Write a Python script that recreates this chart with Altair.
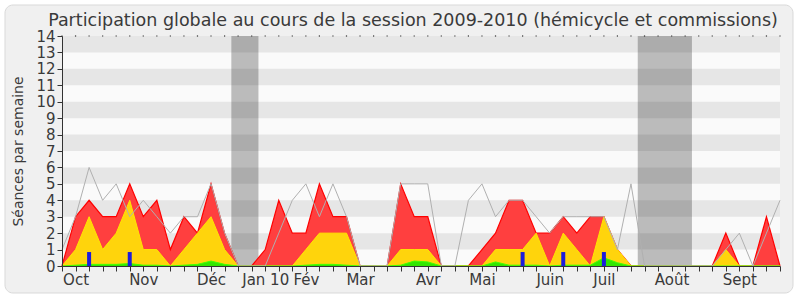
import altair as alt
import pandas as pd

# ---- data ----
weeks = list(range(54))
presence_total = [0, 3, 4, 3, 3, 5, 3, 4, 1, 3, 2, 5, 2, 0,
                  0, 1, 4, 2, 2, 5, 3, 3, 0, 0, 0, 5, 3, 3,
                  0, 0, 0, 1, 2, 4, 4, 2, 2, 3, 2, 3, 3, 1,
                  0, 0, 0, 0, 0, 0, 0, 2, 0, 0, 3, 0]
presence_hemicycle = [0, 1, 3, 1, 2, 4, 1, 1, 0, 1, 2, 3, 1, 0,
                      0, 0, 0, 0, 1, 2, 2, 2, 0, 0, 0, 1, 1, 1,
                      0, 0, 0, 0, 1, 1, 1, 2, 0, 2, 1, 0, 3, 1,
                      0, 0, 0, 0, 0, 0, 0, 1, 0, 0, 0, 0]
interventions = [0, 0.05, 0.1, 0.1, 0.1, 0.15, 0.05, 0.05, 0, 0.05, 0.1, 0.3, 0.1, 0,
                 0, 0, 0, 0, 0.05, 0.1, 0.1, 0.05, 0, 0, 0, 0.05, 0.3, 0.25,
                 0, 0, 0, 0, 0.25, 0.05, 0.05, 0.05, 0, 0.05, 0.05, 0.05, 0.5, 0.2,
                 0, 0, 0, 0, 0, 0, 0, 0, 0, 0, 0, 0]
mediane = [1, 3, 6, 4, 5, 3, 4, 3, 2, 3, 3, 5, 2, 0,
           0, 0, 2, 4, 5, 3, 5, 3, 0, 0, 0, 5, 5, 5,
           0, 0, 4, 5, 3, 4, 4, 3, 2, 3, 3, 3, 3, 1,
           5, 0, 0, 0, 0, 0, 0, 1, 2, 0, 2, 4]
question_weeks = [2, 5, 34, 37, 40]
question_values = [0.85, 0.85, 0.85, 0.85, 0.85]
vacation_start = [12.5, 42.5]
vacation_end = [14.5, 46.5]
stripe_low = [1, 3, 5, 7, 9, 11, 13]
month_weeks = [1, 6, 11, 15, 18, 22, 27, 31, 36, 40, 45, 50]
month_labels = ["Oct", "Nov", "Déc", "Jan 10", "Fév", "Mar", "Avr", "Mai",
                "Juin", "Juil", "Août", "Sept"]
y_ticks = list(range(15))

FONT = "DejaVu Sans"
TXT = "#3a3a3a"

df = pd.DataFrame({"week": weeks, "total": presence_total,
                   "hemi": presence_hemicycle, "inter": interventions,
                   "med": mediane})
qdf = pd.DataFrame({"week": question_weeks, "q": question_values})
vdf = pd.DataFrame({"start": vacation_start, "end": vacation_end,
                    "lo": [0] * len(vacation_start), "hi": [14] * len(vacation_start)})
sdf = pd.DataFrame({"lo": stripe_low, "hi": [s + 1 for s in stripe_low],
                    "x0": [0] * len(stripe_low), "x1": [53] * len(stripe_low)})
bgdf = pd.DataFrame({"lo": [0], "hi": [14], "x0": [0], "x1": [53]})
topdf = pd.DataFrame({"week": weeks, "top": [14] * len(weeks)})

label_expr = "''"
for w, lab in reversed(list(zip(month_weeks, month_labels))):
    label_expr = f"datum.value == {w} ? '{lab}' : ({label_expr})"

xs = alt.Scale(domain=[0, 53], nice=False, zero=False, padding=0)
ys = alt.Scale(domain=[0, 14], nice=False, padding=0)
xaxis = alt.Axis(values=weeks, labelExpr=label_expr, tickSize=5, tickColor="#333",
                 domainColor="#333", labelFont=FONT, labelFontSize=15, labelColor=TXT,
                 labelBaseline="alphabetic", labelPadding=13, grid=False,
                 labelOverlap=False, labelFlush=False, labelBound=False, zindex=1)
yaxis = alt.Axis(values=y_ticks, tickSize=5, tickColor="#333", domainColor="#333",
                 labelFont=FONT, labelFontSize=15, labelColor=TXT, labelPadding=2,
                 grid=False, labelOverlap=False, labelFlush=False,
                 titleFont=FONT, titleFontSize=14, titleColor=TXT, titleFontWeight="normal",
                 titleX=-44, titleY=115, titleAngle=-90, titleBaseline="middle",
                 titleAlign="center", zindex=1)


def X(f):
    return alt.X(f, type="quantitative", scale=xs, axis=xaxis, title=None)


def Y(f):
    return alt.Y(f, type="quantitative", scale=ys, axis=yaxis, title="Séances par semaine")


frame = alt.Chart(pd.DataFrame({"a": [0]})).mark_rect(
    fill="#f0f0f0", stroke="#d9d9d9", strokeWidth=1, cornerRadius=8
).encode(x=alt.value(-57), x2=alt.value(731), y=alt.value(-31), y2=alt.value(257))

bg = alt.Chart(bgdf).mark_rect(color="#fafafa").encode(
    x=X("x0"), x2="x1", y=Y("lo"), y2="hi")
stripes = alt.Chart(sdf).mark_rect(color="#e6e6e6").encode(
    x=X("x0"), x2="x1", y=Y("lo"), y2="hi")
vac = alt.Chart(vdf).mark_rect(color="#000000", opacity=0.25).encode(
    x=X("start"), x2="end", y=Y("lo"), y2="hi")

red = alt.Chart(df).mark_area(color="#ff3f3f", opacity=1,
                              line={"color": "#ff0000", "strokeWidth": 1.2}).encode(
    x=X("week"), y=Y("total"))
yellow = alt.Chart(df).mark_area(color="#ffd40c", opacity=1,
                                 line={"color": "#ffe600", "strokeWidth": 1}).encode(
    x=X("week"), y=Y("hemi"))
green = alt.Chart(df).mark_area(color="#33e600", opacity=1,
                                line={"color": "#44ff00", "strokeWidth": 1}).encode(
    x=X("week"), y=Y("inter"))
blue = alt.Chart(qdf).mark_bar(color="#1c1cdc", size=4, opacity=1).encode(
    x=X("week"), y=Y("q"))
gray = alt.Chart(df).mark_line(color="#b0b0b0", strokeWidth=1).encode(
    x=X("week"), y=Y("med"))
dots = alt.Chart(topdf).mark_square(color="#333", size=1.5, opacity=1).encode(
    x=X("week"), y=Y("top"))

chart = alt.layer(frame, bg, stripes, vac, red, yellow, green, blue, gray, dots).properties(
    width=718, height=230,
    autosize=alt.AutoSizeParams(type="none"),
    padding={"left": 62, "top": 36, "right": 20, "bottom": 34},
    background="#ffffff",
    title=alt.Title("Participation globale au cours de la session 2009-2010 (hémicycle et commissions)",
                    font=FONT, fontSize=17.5, fontWeight="normal", color=TXT,
                    anchor="middle", frame="group", offset=-39, baseline="alphabetic",
                    dx=-8, zindex=1),
).configure_view(stroke=None)

chart.save("out.html", embed_options={"renderer": "svg", "actions": False})
